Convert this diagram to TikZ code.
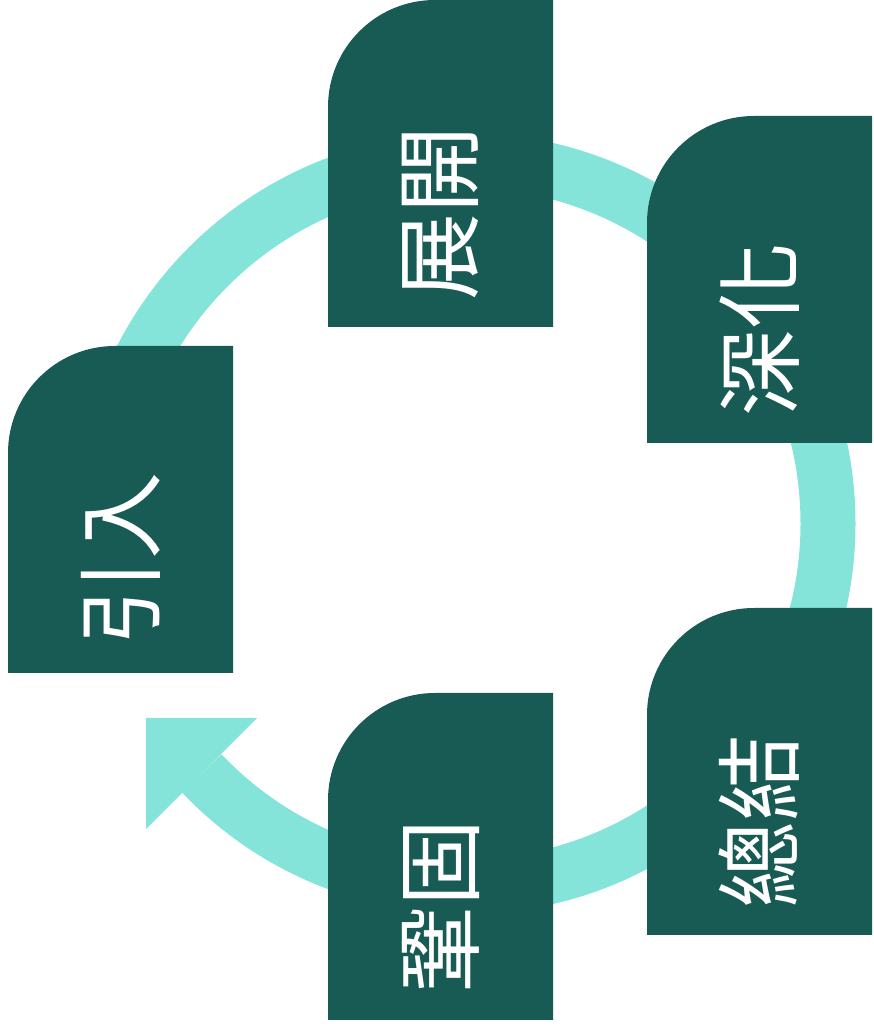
\documentclass[tikz,border=0pt]{standalone}
\usepackage{fontspec}
\newfontfamily\cjk{Noto Sans CJK TC}
\usetikzlibrary{calc}

\definecolor{cardgreen}{HTML}{175B54}
\definecolor{ringteal}{HTML}{85E4D9}

\tikzstyle{card}=[rectangle, inner sep=0, minimum width=225pt, minimum height=327pt,
                  path picture={\fill[cardgreen] (path picture bounding box.south west)
                    -- ([yshift=-107pt]path picture bounding box.north west)
                    arc[start angle=180, end angle=90, radius=107pt]
                    -- (path picture bounding box.north east)
                    -- (path picture bounding box.south east) -- cycle;}]
\tikzstyle{cardtext}=[text=white, rotate=90, inner sep=0,
                      font=\cjk\fontsize{87}{87}\selectfont]
\tikzstyle{ring}=[ringteal, line width=55pt]

\begin{document}
\begin{tikzpicture}[x=1pt, y=1pt]
\useasboundingbox (0,0) rectangle (873,1030);

%%%%%%%%%%%%%%%%%%%%%%%%%%%%%%
% cycle

\coordinate (ring_c) at (465, 506.5);
\coordinate (ring_end) at ($(ring_c)+(-136.5:363)$);
\draw[ring] ($(ring_c)+(180:363)$) arc[start angle=180, end angle=-136.5, radius=363];
\fill[ringteal] ($(ring_end)+(-135:78.5)$) -- ($(ring_end)+(45:78.5)$)
                -- ($(ring_end)+(135:78.5)$) -- cycle;

%%%%%%%%%%%%%%%%%%%%%%%%%%%%%%
% cards

\node (expand) at (440.5, 866.5) [card] {};
\node (expand_t) at ([yshift=114pt]expand.south) [cardtext] {展開};

\node (deepen) at (759.5, 750.5) [card] {};
\node (deepen_t) at ([yshift=114pt]deepen.south) [cardtext] {深化};

\node (intro) at (120.5, 520.5) [card] {};
\node (intro_t) at ([yshift=114pt]intro.south) [cardtext] {引入};

\node (summary) at (759.5, 258.5) [card] {};
\node (summary_t) at ([yshift=114pt]summary.south) [cardtext] {總結};

\node (consol) at (440.5, 173.5) [card] {};
\node (consol_t) at ([yshift=114pt]consol.south) [cardtext] {鞏固};

\end{tikzpicture}
\end{document}
